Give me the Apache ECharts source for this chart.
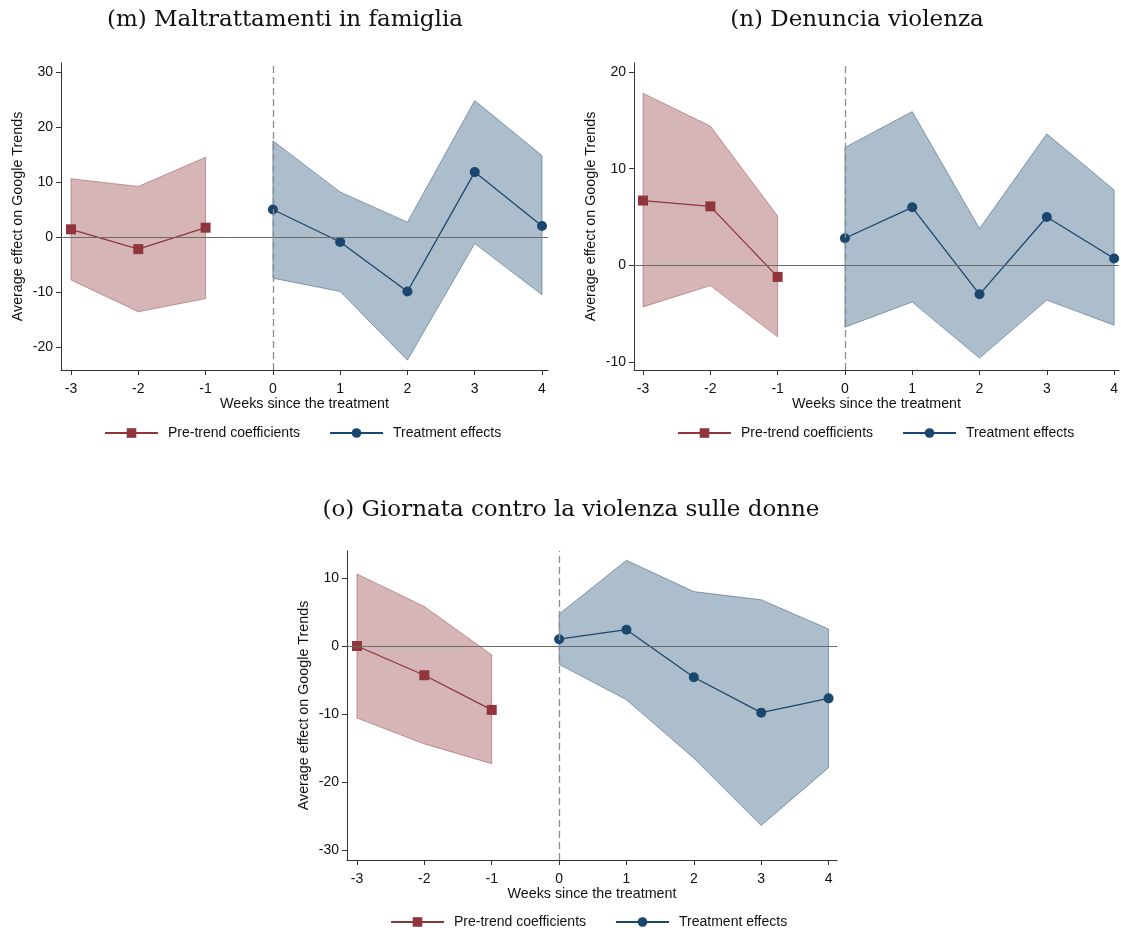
<!DOCTYPE html>
<html>
<head>
<meta charset="utf-8">
<title>Event-study estimates</title>
<script src="https://cdn.jsdelivr.net/npm/echarts@6/dist/echarts.min.js"></script>
<style>
  html, body { margin: 0; padding: 0; background: #ffffff; }
  #chart { width: 1121px; height: 930px; }
</style>
</head>
<body>
<div id="chart"></div>
<script>
// Weeks relative to the treatment
const preWeeks = [-3, -2, -1];
const postWeeks = [0, 1, 2, 3, 4];
const xTicks = [-3, -2, -1, 0, 1, 2, 3, 4];

// (m) Maltrattamenti in famiglia
const mPre = [1.4, -2.2, 1.7];
const mPreLo = [-7.8, -13.6, -11.2];
const mPreHi = [10.6, 9.2, 14.5];
const mPost = [5.0, -0.9, -9.9, 11.8, 2.0];
const mPostLo = [-7.5, -9.9, -22.4, -1.2, -10.5];
const mPostHi = [17.5, 8.2, 2.7, 24.8, 14.8];
const mTicks = [-20, -10, 0, 10, 20, 30];

// (n) Denuncia violenza
const nPre = [6.7, 6.1, -1.2];
const nPreLo = [-4.3, -2.1, -7.4];
const nPreHi = [17.8, 14.4, 5.1];
const nPost = [2.8, 6.0, -3.0, 5.0, 0.7];
const nPostLo = [-6.4, -3.8, -9.6, -3.6, -6.2];
const nPostHi = [12.2, 15.9, 3.8, 13.6, 7.8];
const nTicks = [-10, 0, 10, 20];

// (o) Giornata contro la violenza sulle donne
const oPre = [0.0, -4.3, -9.4];
const oPreLo = [-10.6, -14.4, -17.3];
const oPreHi = [10.6, 5.8, -1.3];
const oPost = [1.0, 2.4, -4.6, -9.8, -7.7];
const oPostLo = [-2.7, -7.9, -16.5, -26.4, -17.9];
const oPostHi = [4.7, 12.6, 8.0, 6.8, 2.5];
const oTicks = [-30, -20, -10, 0, 10];

const panelTitles = [
  '(m) Maltrattamenti in famiglia',
  '(n) Denuncia violenza',
  '(o) Giornata contro la violenza sulle donne'
];
const yName = 'Average effect on Google Trends';
const xName = 'Weeks since the treatment';
const preName = 'Pre-trend coefficients';
const postName = 'Treatment effects';

const RED = '#90353b';
const BLUE = '#1a476f';
const SANS = '"Liberation Sans", Arial, sans-serif';
const SERIF = '"DejaVu Serif", "Liberation Serif", serif';

// Panel layout: grid box, axis extents and legend placement
const panels = [
  {
    grid: { left: 61, top: 63, width: 487, height: 307 },
    xMin: -3.149, xMax: 4.089, yMin: -24.18, yMax: 31.64,
    yTicks: mTicks, titleX: 280, titleY: 4, legendX: 104, legendY: 426,
    pre: [mPre, mPreLo, mPreHi], post: [mPost, mPostLo, mPostHi]
  },
  {
    grid: { left: 634, top: 63, width: 486, height: 307 },
    xMin: -3.134, xMax: 4.074, yMin: -10.83, yMax: 20.93,
    yTicks: nTicks, titleX: 852, titleY: 4, legendX: 677, legendY: 426,
    pre: [nPre, nPreLo, nPreHi], post: [nPost, nPostLo, nPostHi]
  },
  {
    grid: { left: 347, top: 551, width: 490, height: 309 },
    xMin: -3.148, xMax: 4.125, yMin: -31.47, yMax: 13.97,
    yTicks: oTicks, titleX: 566, titleY: 494, legendX: 390, legendY: 915,
    pre: [oPre, oPreLo, oPreHi], post: [oPost, oPostLo, oPostHi]
  }
];

// Confidence band drawn as one polygon through the axis scales
function bandSeries(idx, weeks, lo, hi, tag, fill, stroke) {
  return {
    type: 'custom',
    name: 'band-' + idx + '-' + tag,
    xAxisIndex: idx,
    yAxisIndex: idx,
    z: 1,
    silent: true,
    data: weeks.map((w, i) => [w, lo[i], hi[i]]),
    renderItem: function (params, api) {
      if (params.dataIndex !== 0) return null;
      const pts = [];
      for (let i = 0; i < weeks.length; i++) pts.push(api.coord([weeks[i], hi[i]]));
      for (let i = weeks.length - 1; i >= 0; i--) pts.push(api.coord([weeks[i], lo[i]]));
      return {
        type: 'polygon',
        shape: { points: pts },
        style: { fill: fill, stroke: stroke, lineWidth: 1 }
      };
    }
  };
}

const option = {
  backgroundColor: '#ffffff',
  animation: false,
  title: [],
  legend: [],
  grid: [],
  xAxis: [],
  yAxis: [],
  series: []
};

panels.forEach((p, idx) => {
  option.title.push({
    text: panelTitles[idx],
    left: p.titleX,
    top: p.titleY,
    textAlign: 'center',
    textStyle: { fontFamily: SERIF, fontSize: 23, fontWeight: 'normal', color: '#111' }
  });
  option.grid.push(Object.assign({ containLabel: false }, p.grid));
  option.legend.push({
    left: p.legendX,
    top: p.legendY,
    padding: 0,
    data: [preName, postName],
    itemWidth: 53,
    itemHeight: 12,
    itemGap: 29,
    selectedMode: false,
    textStyle: { fontFamily: SANS, fontSize: 14, color: '#111', padding: [0, 0, 0, 5] }
  });
  option.xAxis.push({
    type: 'value',
    gridIndex: idx,
    min: p.xMin,
    max: p.xMax,
    name: xName,
    nameLocation: 'middle',
    nameGap: 26,
    nameTextStyle: { fontFamily: SANS, fontSize: 14.3, color: '#111' },
    axisLine: { show: true, onZero: false, lineStyle: { color: '#333', width: 1 } },
    axisTick: { show: true, length: 5, customValues: xTicks, lineStyle: { color: '#333' } },
    axisLabel: { customValues: xTicks, margin: 12, fontFamily: SANS, fontSize: 14, color: '#111' },
    splitLine: { show: false }
  });
  option.yAxis.push({
    type: 'value',
    gridIndex: idx,
    min: p.yMin,
    max: p.yMax,
    name: yName,
    nameLocation: 'middle',
    nameRotate: 90,
    nameGap: 36,
    nameTextStyle: { fontFamily: SANS, fontSize: 14.3, color: '#111' },
    axisLine: { show: true, onZero: false, lineStyle: { color: '#333', width: 1 } },
    axisTick: { show: true, length: 5, customValues: p.yTicks, lineStyle: { color: '#333' } },
    axisLabel: { customValues: p.yTicks, margin: 8, fontFamily: SANS, fontSize: 14, color: '#111' },
    splitLine: { show: false }
  });

  option.series.push(bandSeries(idx, preWeeks, p.pre[1], p.pre[2], 'pre',
    'rgba(144,53,59,0.37)', 'rgba(144,53,59,0.45)'));
  option.series.push(bandSeries(idx, postWeeks, p.post[1], p.post[2], 'post',
    'rgba(26,71,111,0.36)', 'rgba(26,71,111,0.45)'));

  option.series.push({
    type: 'line',
    name: preName,
    xAxisIndex: idx,
    yAxisIndex: idx,
    z: 3,
    data: preWeeks.map((w, i) => [w, p.pre[0][i]]),
    symbol: 'rect',
    symbolSize: 10,
    showAllSymbol: true,
    lineStyle: { color: RED, width: 1.3 },
    itemStyle: { color: RED },
    markLine: {
      silent: true,
      symbol: 'none',
      label: { show: false },
      animation: false,
      data: [
        { yAxis: 0, lineStyle: { color: '#6b6b6b', width: 1, type: 'solid' } },
        { xAxis: 0, lineStyle: { color: '#8c8c8c', width: 1.3, type: [7, 4] } }
      ]
    }
  });
  option.series.push({
    type: 'line',
    name: postName,
    xAxisIndex: idx,
    yAxisIndex: idx,
    z: 3,
    data: postWeeks.map((w, i) => [w, p.post[0][i]]),
    symbol: 'circle',
    symbolSize: 10,
    showAllSymbol: true,
    lineStyle: { color: BLUE, width: 1.3 },
    itemStyle: { color: BLUE }
  });
});

const chart = echarts.init(document.getElementById('chart'), null, { renderer: 'canvas' });
chart.setOption(option);
</script>
</body>
</html>
